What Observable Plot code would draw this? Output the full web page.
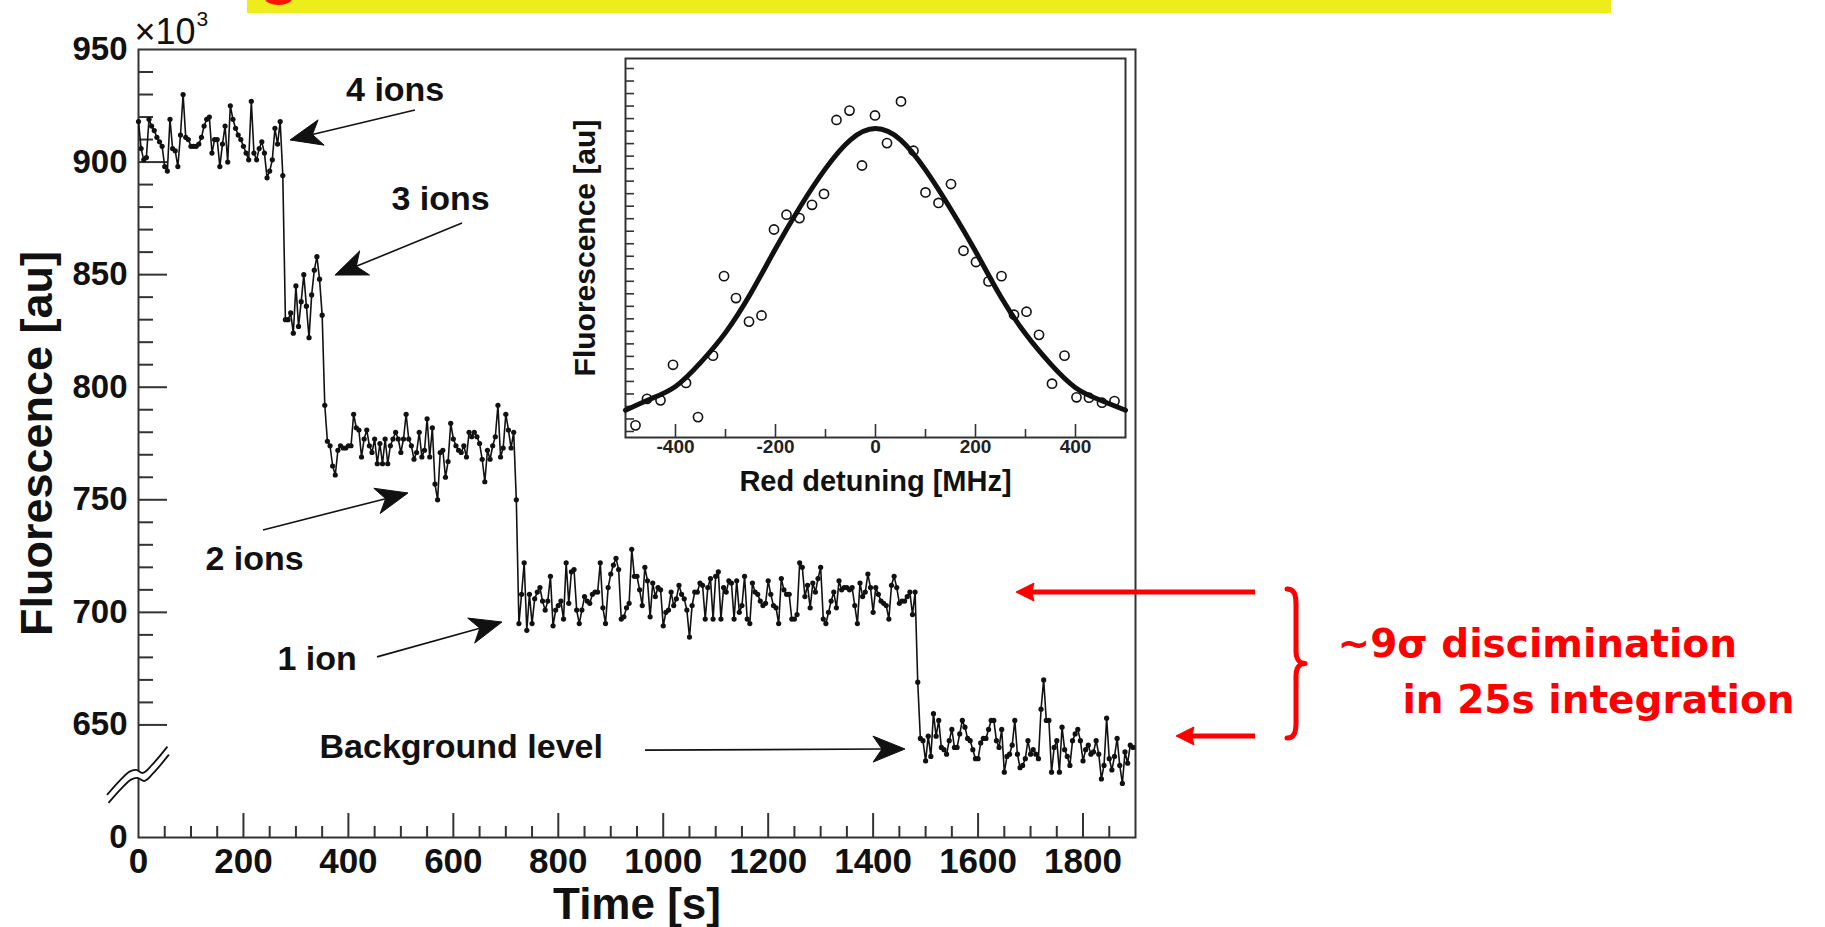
<!DOCTYPE html>
<html><head><meta charset="utf-8">
<script src="https://cdn.jsdelivr.net/npm/d3@7"></script>
<script src="https://cdn.jsdelivr.net/npm/@observablehq/plot@0.6"></script>
<style>
body{margin:0;background:#fff;}
#page{position:relative;width:1825px;height:927px;overflow:hidden;background:#fff;}
#main{position:absolute;left:0;top:0;}
#inset{position:absolute;left:540px;top:50px;}
#banner{position:absolute;left:247px;top:0;width:1364px;height:13px;background:#EDED1B;}
#blob{position:absolute;left:265px;top:-8px;width:27px;height:13px;border-radius:50%;background:#FF1400;}
</style></head>
<body><div id="page"><div id="main"></div><div id="inset"></div><div id="banner"></div><div id="blob"></div></div>
<script>
// ---------------- data (main trace, 5 s sampling) ----------------
const step = 5;
const fourIonsStart = 0;
const fourIons = [918,906,901,902,919,916,914,911,909,907,898,896,919,906,905,898,912,930,911,910,907,907,907,908,911,916,919,920,904,910,910,898,908,916,900,925,919,915,912,910,907,904,901,927,904,901,906,909,904,893,896,901,915,908,918,894];
const threeIonsStart = 280;
const threeIons = [830,830,833,824,845,827,838,850,836,822,841,852,858,848,832];
const twoIonsStart = 355;
const twoIons = [792,776,774,765,761,772,774,773,773,774,774,788,782,781,769,777,781,774,771,777,766,775,766,777,766,774,777,780,777,771,777,788,777,774,768,771,780,769,772,786,769,782,757,750,771,772,760,767,784,777,774,772,771,774,769,780,778,780,778,775,768,758,772,768,774,778,792,769,773,788,781,773,780,750];
const oneIonStart = 725;
const oneIon = [695,708,722,692,708,695,706,709,711,705,701,705,716,694,701,703,705,697,722,704,718,719,701,695,701,707,705,704,708,709,709,722,702,695,711,717,721,724,719,697,698,702,704,728,716,716,710,703,720,714,698,713,707,711,710,694,700,701,709,703,706,712,708,706,701,689,703,709,709,713,712,697,711,715,697,716,718,697,711,709,714,713,697,714,700,703,716,697,695,713,709,708,705,703,704,714,708,703,702,695,715,710,708,708,697,697,699,722,720,707,712,702,713,709,715,720,697,695,700,705,709,702,714,710,711,711,710,711,703,695,713,707,709,717,711,700,711,708,705,704,703,697,712,716,711,704,705,705,707,709,699,709,669];
const backgroundStart = 1490;
const background = [644,643,634,645,636,655,645,652,640,639,637,643,648,640,640,646,652,649,644,643,639,635,635,642,644,644,648,652,652,643,640,648,629,636,637,641,652,637,631,632,635,643,637,639,637,635,657,670,652,652,629,640,643,629,649,639,636,632,643,646,648,643,634,639,641,637,638,643,637,626,632,653,635,630,636,644,632,624,638,633,641,640];

// axis ticks
const yMajor = [600,650,700,750,800,850,900,950];
const yMajorLabels = ["0","650","700","750","800","850","900","950"];
const xMajor = [0,200,400,600,800,1000,1200,1400,1600,1800];
const xMajorLabels = ["0","200","400","600","800","1000","1200","1400","1600","1800"];

// ---------------- inset data ----------------
const detuning = [-480,-457,-430,-405,-379,-355,-325,-303,-279,-253,-228,-203,-178,-152,-127,-103,-78,-52,-27,-1,23,51,76,100,126,151,176,201,226,252,277,302,327,353,378,402,427,453,478];
const insetFluor = [0.49,2.61,2.49,5.33,3.88,1.15,6.06,12.41,10.66,8.78,9.27,16.14,17.32,17.05,18.11,18.98,24.89,25.64,21.25,25.25,23.04,26.37,22.43,19.1,18.26,19.77,14.44,13.54,11.99,12.41,9.33,9.57,7.72,3.82,6.06,2.73,2.7,2.3,2.43];
const fitDetuning = [-500,-450,-400,-350,-300,-250,-200,-150,-100,-50,0,50,100,150,200,250,300,350,400,450,500];
const fitFluor = [1.7,2.6,3.6,5.5,7.9,11.0,14.6,18.0,21.0,23.3,24.2,23.3,20.9,17.8,14.4,10.8,7.8,5.4,3.5,2.5,1.7];
const insetXMajor = [-400,-200,0,200,400];
const insetXMajorLabels = ["-400","-200","0","200","400"];
const insetXMinor = [-300,-100,100,300];

// ---------------- annotations (data coordinates) ----------------
const ionLabels = [
  {t:395.5, v:927.3, text:"4 ions"},
  {t:482,   v:878.9, text:"3 ions"},
  {t:127.7, v:718.6, text:"2 ions"},
  {t:264.9, v:674.2, text:"1 ion"},
  {t:345,   v:635.1, text:"Background level"}
];
const blackArrows = [
  {x1:527.9, y1:922.9, x2:289.7, y2:909.6},
  {x1:617.5, y1:872.7, x2:375.4, y2:849.6},
  {x1:238.2, y1:736.4, x2:514.5, y2:752.8},
  {x1:455.5, y1:680.0, x2:693.7, y2:695.5},
  {x1:966.2, y1:638.6, x2:1461.7, y2:639.1}
];
const redArrows = [
  {x1:2128.7, y1:708.8, x2:1673.2, y2:708.8},
  {x1:2128.7, y1:644.9, x2:1978.1, y2:644.9}
];
const redLabels = [
  {t:2285, v:680.0, text:"~9σ discimination"},
  {t:2408.8, v:655.1, text:"in 25s integration"}
];
const brace = {t:2189.7, top:710.2, bottom:644.0};

// ---------------- build main chart ----------------
const W = 1825, H = 927;
const mL = 138, mR = W - 1135, mT = 49, mB = H - 837;
const xDom = [0, 1900], yDom = [600, 950];
const kx = (W - mL - mR) / (xDom[1] - xDom[0]);
const ky = (H - mT - mB) / (yDom[1] - yDom[0]);

function seg(start, vals) { return vals.map((v, i) => ({t: start + i * step, v})); }
const series = [
  ...seg(fourIonsStart, fourIons), ...seg(threeIonsStart, threeIons),
  ...seg(twoIonsStart, twoIons), ...seg(oneIonStart, oneIon), ...seg(backgroundStart, background)
];
const yMinor = d3.range(660, 950, 10).filter(d => d % 50 !== 0);
const xMinor = d3.range(50, 1900, 50).filter(d => d % 200 !== 0);

const FONT = "'Liberation Sans', Arial, Helvetica, sans-serif";
const ink = "#111";

const main = Plot.plot({
  width: W, height: H,
  marginLeft: mL, marginRight: mR, marginTop: mT, marginBottom: mB,
  x: {domain: xDom, axis: null},
  y: {domain: yDom, axis: null},
  style: {fontFamily: FONT, background: "transparent", overflow: "visible", color: ink},
  marks: [
    Plot.frame({stroke: "#333", strokeWidth: 2}),
    Plot.ruleY(yMajor.slice(1, -1), {x1: 0, x2: 29 / kx, stroke: "#333", strokeWidth: 2}),
    Plot.ruleY(yMinor, {x1: 0, x2: 15 / kx, stroke: "#333", strokeWidth: 2}),
    Plot.ruleX(xMajor.slice(1), {y1: 600, y2: 600 + 24 / ky, stroke: "#333", strokeWidth: 2}),
    Plot.ruleX(xMinor, {y1: 600, y2: 600 + 11 / ky, stroke: "#333", strokeWidth: 2}),
    Plot.text(yMajor, {x: 0, y: d => d, text: (d, i) => yMajorLabels[i], dx: -11, textAnchor: "end", fontSize: 33, fontWeight: "bold", fill: ink}),
    Plot.text(xMajor, {x: d => d, y: 600, text: (d, i) => xMajorLabels[i], lineAnchor: "top", dy: 11, fontSize: 35, fontWeight: "bold", fill: ink}),
    Plot.text(["Fluorescence [au]"], {frameAnchor: "left", dx: -87, rotate: -90, textAnchor: "middle", lineAnchor: "bottom", fontSize: 45, fontWeight: "bold", fill: ink}),
    Plot.text(["Time [s]"], {frameAnchor: "bottom", dy: 81, textAnchor: "middle", lineAnchor: "bottom", fontSize: 44, fontWeight: "bold", fill: ink}),
    Plot.text(["×10"], {frameAnchor: "top-left", dx: -4, dy: -6, textAnchor: "start", lineAnchor: "bottom", fontSize: 36, fill: ink}),
    Plot.text(["3"], {frameAnchor: "top-left", dx: 58, dy: -24, textAnchor: "start", lineAnchor: "bottom", fontSize: 21, fill: ink}),
    Plot.line(series, {x: "t", y: "v", stroke: ink, strokeWidth: 1.6}),
    Plot.dot(series, {x: "t", y: "v", r: 2.6, fill: ink}),
    Plot.text(ionLabels, {x: "t", y: "v", text: "text", textAnchor: "start", lineAnchor: "bottom", fontSize: 34, fontWeight: "bold", fill: ink}),
    Plot.text(redLabels, {x: "t", y: "v", text: "text", textAnchor: "start", lineAnchor: "bottom", fontSize: 39, fontWeight: "bold", fill: "#FF0000", fontFamily: "'DejaVu Sans', sans-serif"})
  ]
});
document.getElementById("main").appendChild(main);

// extra shapes drawn through the chart's scales
const sx = main.scale("x").apply, sy = main.scale("y").apply;
const svg = d3.select(main);
const ann = svg.append("g");

function arrow(a, color, width, headLen, headW, notch) {
  const x1 = sx(a.x1), y1 = sy(a.y1), x2 = sx(a.x2), y2 = sy(a.y2);
  const ang = Math.atan2(y2 - y1, x2 - x1);
  const ux = Math.cos(ang), uy = Math.sin(ang), px = -uy, py = ux;
  const bx = x2 - ux * headLen, by = y2 - uy * headLen;
  const nx = x2 - ux * headLen * (1 - notch), ny = y2 - uy * headLen * (1 - notch);
  ann.append("line").attr("x1", x1).attr("y1", y1).attr("x2", nx).attr("y2", ny)
    .attr("stroke", color).attr("stroke-width", width);
  ann.append("path")
    .attr("d", `M${x2},${y2}L${bx + px * headW / 2},${by + py * headW / 2}L${nx},${ny}L${bx - px * headW / 2},${by - py * headW / 2}Z`)
    .attr("fill", color).attr("stroke", color).attr("stroke-width", 1).attr("stroke-linejoin", "round");
}
blackArrows.forEach(a => arrow(a, ink, 1.6, 32, 26, 0.28));
redArrows.forEach(a => arrow(a, "#FF0000", 5, 18, 18, 0.12));

// red curly brace
{
  const x0 = sx(brace.t), yt = sy(brace.top), yb = sy(brace.bottom), ym = (yt + yb) / 2;
  const d = `M${x0},${yt} C${x0 + 7},${yt} ${x0 + 9},${yt + 5} ${x0 + 9},${yt + 16}
    L${x0 + 9},${ym - 12} C${x0 + 9},${ym - 4} ${x0 + 13},${ym} ${x0 + 18},${ym}
    C${x0 + 13},${ym} ${x0 + 9},${ym + 4} ${x0 + 9},${ym + 12}
    L${x0 + 9},${yb - 16} C${x0 + 9},${yb - 5} ${x0 + 7},${yb} ${x0},${yb}`;
  ann.append("path").attr("d", d).attr("fill", "none").attr("stroke", "#FF0000")
    .attr("stroke-width", 5).attr("stroke-linecap", "round").attr("stroke-linejoin", "round");
}

// axis break symbol
{
  const ax = sx(0), ay = sy(628);
  const rel = [[-31, 21], [-17.5, 6], [-8.5, -2.3], [-2, -4], [5, -1], [14, -9], [29.4, -27.3]];
  const off = [1.5, 8];
  const l1 = rel.map(([a, b]) => [ax + a, ay + b]);
  const l2 = rel.map(([a, b]) => [ax + a + off[0], ay + b + off[1]]);
  const gen = d3.line().curve(d3.curveCatmullRom);
  ann.append("path").attr("d", gen(l1) + "L" + gen(l2.slice().reverse()).slice(1) + "Z")
    .attr("fill", "#fff").attr("stroke", "none");
  ann.append("path").attr("d", gen(l1)).attr("fill", "none").attr("stroke", ink).attr("stroke-width", 1.8);
  ann.append("path").attr("d", gen(l2)).attr("fill", "none").attr("stroke", ink).attr("stroke-width", 1.8);
}

// ---------------- inset ----------------
const iyDom = [-0.48, 29.8], ixDom = [-500, 500];
const IW = 600, IH = 460, imL = 85, imR = 15, imT = 8, imB = 73;
const ikx = (IW - imL - imR) / (ixDom[1] - ixDom[0]);
const iky = (IH - imT - imB) / (iyDom[1] - iyDom[0]);
const insetYTicks = d3.range(0, 30, 1);
const pts = detuning.map((x, i) => ({x, y: insetFluor[i]}));
const fit = fitDetuning.map((x, i) => ({x, y: fitFluor[i]}));

const inset = Plot.plot({
  width: IW, height: IH, marginLeft: imL, marginRight: imR, marginTop: imT, marginBottom: imB,
  x: {domain: ixDom, axis: null},
  y: {domain: iyDom, axis: null},
  style: {fontFamily: FONT, background: "transparent", overflow: "visible", color: ink},
  marks: [
    Plot.frame({stroke: "#333", strokeWidth: 2}),
    Plot.ruleX(insetXMajor, {y1: iyDom[0], y2: iyDom[0] + 13 / iky, stroke: "#333", strokeWidth: 1.6}),
    Plot.ruleX(insetXMinor, {y1: iyDom[0], y2: iyDom[0] + 8 / iky, stroke: "#333", strokeWidth: 1.6}),
    Plot.ruleY(insetYTicks, {x1: ixDom[0], x2: ixDom[0] + 9 / ikx, stroke: "#333", strokeWidth: 1.6}),
    Plot.text(insetXMajor, {x: d => d, y: iyDom[0], text: (d, i) => insetXMajorLabels[i], lineAnchor: "top", dy: 2, fontSize: 19, fontWeight: 600, fill: "#222"}),
    Plot.line(fit, {x: "x", y: "y", curve: "natural", stroke: ink, strokeWidth: 5}),
    Plot.dot(pts, {x: "x", y: "y", r: 4.6, stroke: ink, strokeWidth: 1.6, fill: "none"}),
    Plot.text(["Red detuning [MHz]"], {frameAnchor: "bottom", dy: 53, textAnchor: "middle", lineAnchor: "bottom", fontSize: 29, fontWeight: "bold", fill: ink}),
    Plot.text(["Fluorescence [au]"], {frameAnchor: "left", dx: -31, rotate: -90, textAnchor: "middle", lineAnchor: "bottom", fontSize: 30, fontWeight: "bold", fill: ink})
  ]
});
document.getElementById("inset").appendChild(inset);
</script>
</body></html>
